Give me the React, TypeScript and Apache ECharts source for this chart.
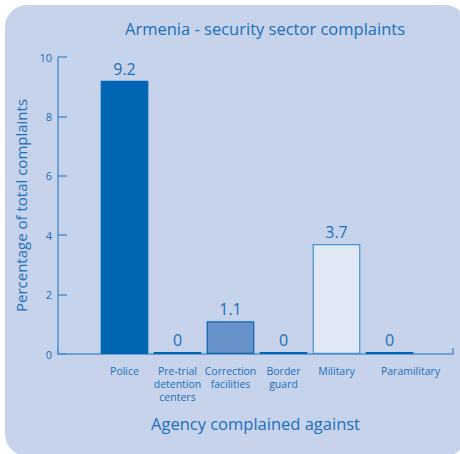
import React, { useEffect, useRef } from "react";
import * as echarts from "echarts";

const categories = [
  "Police",
  "Pre-trial\ndetention\ncenters",
  "Correction\nfacilities",
  "Border\nguard",
  "Military",
  "Paramilitary",
];
const values = [9.2, 0, 1.1, 0, 3.7, 0];
const barFills = ["#0066b3", "#0066b3", "#6892ca", "#0066b3", "#e1e8f5", "#0066b3"];
const barBorders = ["#0066b3", "#0066b3", "#0a62ad", "#0066b3", "#4a8fd0", "#0066b3"];
const yTicks = { min: 0, max: 10, interval: 2 };

const TEXT = "#1a6fba";
const AXIS = "#4f93d2";
const FONT = "Open Sans";

export default function App() {
  const ref = useRef<HTMLDivElement>(null);
  useEffect(() => {
    if (!ref.current) return;
    const chart = echarts.init(ref.current, undefined, { renderer: "svg" });
    chart.setOption({
      animation: false,
      textStyle: { fontFamily: FONT },
      graphic: {
        elements: [
          {
            type: "rect",
            z: -10,
            silent: true,
            shape: { x: 5, y: 5, width: 462, height: 451, r: 22 },
            style: { fill: "#c6d3ea" },
          },
        ],
      },
      title: {
        text: "Armenia - security sector complaints",
        left: 260,
        top: 15,
        textAlign: "center",
        textStyle: { color: TEXT, fontSize: 16.5, fontWeight: "normal", fontFamily: FONT },
      },
      grid: [
        { left: 58, right: 7, top: 57, bottom: 100 },
        { left: 98, width: 318, top: 57, bottom: 100 },
      ],
      xAxis: [
        {
          type: "value",
          gridIndex: 0,
          min: 0,
          max: 1,
          interval: 1,
          splitLine: { show: false },
          axisLine: { show: true, lineStyle: { color: AXIS, width: 1.5 } },
          axisTick: { show: true, inside: true, length: 6, lineStyle: { color: AXIS, width: 1.5 } },
          axisLabel: { show: false },
          name: "Agency complained against",
          nameLocation: "middle",
          nameGap: 61,
          nameTextStyle: { color: TEXT, fontSize: 16.5, fontFamily: FONT },
        },
        {
          type: "category",
          gridIndex: 1,
          data: categories.map((c, i) =>
            i === categories.length - 1
              ? { value: c, textStyle: { padding: [0, 0, 8, 42] } }
              : c
          ),
          axisLine: { show: false },
          axisTick: { show: false },
          axisLabel: {
            color: TEXT,
            fontSize: 10.5,
            lineHeight: 13,
            margin: 10,
            interval: 0,
            fontFamily: FONT,
          },
        },
      ],
      yAxis: [
        {
          type: "value",
          gridIndex: 0,
          min: yTicks.min,
          max: yTicks.max,
          interval: yTicks.interval,
          splitLine: { show: false },
          axisLine: { show: true, lineStyle: { color: AXIS, width: 1.5 } },
          axisTick: { show: true, inside: true, length: 9, lineStyle: { color: AXIS, width: 1.5 } },
          axisLabel: { color: TEXT, fontSize: 11, margin: 6, fontFamily: FONT },
          name: "Percentage of total complaints",
          nameLocation: "middle",
          nameGap: 26,
          nameRotate: 90,
          nameTextStyle: { color: TEXT, fontSize: 15, fontFamily: FONT },
        },
        {
          type: "value",
          gridIndex: 1,
          min: yTicks.min,
          max: yTicks.max,
          show: false,
        },
      ],
      series: [
        {
          type: "bar",
          xAxisIndex: 1,
          yAxisIndex: 1,
          barCategoryGap: "10%",
          barMinHeight: 2,
          data: values.map((v, i) => ({
            value: v,
            itemStyle: {
              color: barFills[i],
              borderColor: barBorders[i],
              borderWidth: v > 0 ? 1.2 : 0,
            },
          })),
          label: {
            show: true,
            position: "top",
            distance: 4,
            color: TEXT,
            fontSize: 16,
            fontFamily: FONT,
            formatter: (p: any) => String(p.value),
          },
        },
      ],
    });
    return () => chart.dispose();
  }, []);
  return (
    <div
      ref={ref}
      style={{ position: "fixed", left: 0, top: 0, width: 460, height: 454, background: "#ffffff" }}
    />
  );
}
